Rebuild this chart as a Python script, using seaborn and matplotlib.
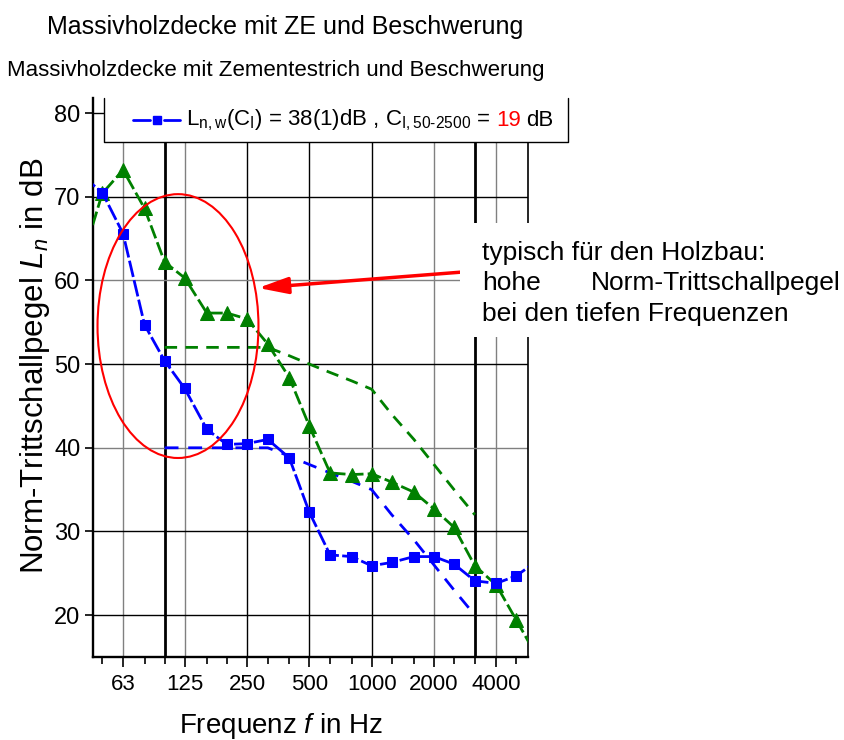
import matplotlib
matplotlib.use("Agg")
import matplotlib.pyplot as plt
import seaborn as sns
from matplotlib import font_manager
from matplotlib.patches import Ellipse, Rectangle
from matplotlib.lines import Line2D
from matplotlib.offsetbox import TextArea, DrawingArea, HPacker, AnchoredOffsetbox
from matplotlib.ticker import FixedLocator, FixedFormatter, NullFormatter

# third-octave bands, 40 and 6300 Hz only so the lines run out of the frame
freqs = [40, 50, 63, 80, 100, 125, 160, 200, 250, 315, 400, 500, 630, 800,
         1000, 1250, 1600, 2000, 2500, 3150, 4000, 5000, 6300]
ln_blue = [72.5, 70.5, 65.6, 54.7, 50.4, 47.1, 42.2, 40.4, 40.5, 41.0, 38.8, 32.3,
           27.2, 27.0, 25.9, 26.3, 27.0, 27.0, 26.1, 24.1, 23.8, 24.7, 26.5]
ln_green = [62.5, 70.4, 73.2, 68.6, 62.2, 60.3, 56.1, 56.1, 55.4, 52.4, 48.4, 42.6,
            37.0, 36.8, 36.9, 35.9, 34.7, 32.7, 30.5, 25.9, 23.6, 19.4, 15.0]

# shifted reference curves (ISO 717-2), 100 - 3150 Hz
ref_freqs = [100, 125, 160, 200, 250, 315, 400, 500, 630, 800, 1000, 1250,
             1600, 2000, 2500, 3150]
ref_blue = [40, 40, 40, 40, 40, 40, 39, 38, 37, 36, 35, 32, 29, 26, 23, 20]
ref_green = [52, 52, 52, 52, 52, 52, 51, 50, 49, 48, 47, 44, 41, 38, 35, 32]

xticks = [63, 125, 250, 500, 1000, 2000, 4000]
xtick_labels = ["63", "125", "250", "500", "1000", "2000", "4000"]
minor_ticks = freqs[1:-1]
yticks = [20, 30, 40, 50, 60, 70, 80]

BLUE = "#0000ff"
GREEN = "#008000"
RED = "#ff0000"
GREY = "#808080"

sns.set_style("ticks")
names = {f.name for f in font_manager.fontManager.ttflist}
narrow = "Liberation Sans Narrow" if "Liberation Sans Narrow" in names else "Liberation Sans"
plt.rcParams["font.family"] = [narrow, "DejaVu Sans"]
plt.rcParams["text.color"] = "black"
plt.rcParams["mathtext.fontset"] = "custom"
plt.rcParams["mathtext.rm"] = narrow
plt.rcParams["mathtext.it"] = narrow + ":italic"
plt.rcParams["mathtext.bf"] = narrow + ":bold"

fig = plt.figure(figsize=(8.44, 7.40), dpi=100)
ax = fig.add_axes([93 / 844, 1 - 657 / 740, 435 / 844, 559 / 740])
ax.set_xscale("log", base=2)
ax.set_xlim(45.1, 5690)
ax.set_ylim(15, 81.8)

# grid: some lines black, some grey, 100 and 3150 Hz thick
for f, c, w in [(63, GREY, 1), (100, "black", 2), (125, GREY, 1), (250, "black", 1),
                (500, "black", 1), (1000, "black", 1), (2000, GREY, 1),
                (3150, "black", 2), (4000, GREY, 1)]:
    ax.axvline(f, color=c, lw=w, zorder=1)
for y, c in [(20, "black"), (30, "black"), (40, GREY), (50, "black"),
             (60, GREY), (70, "black"), (80, "black")]:
    ax.axhline(y, color=c, lw=1, zorder=1)

sns.lineplot(x=ref_freqs, y=ref_green, ax=ax, color=GREEN, lw=2,
             linestyle=(0, (4.5, 3)), errorbar=None, zorder=3)
sns.lineplot(x=ref_freqs, y=ref_blue, ax=ax, color=BLUE, lw=2,
             linestyle=(0, (5, 3.5)), errorbar=None, zorder=3)
sns.lineplot(x=freqs, y=ln_green, ax=ax, color=GREEN, lw=2, linestyle=(0, (5, 1.5)),
             marker="^", markersize=10, markeredgecolor=GREEN, errorbar=None, zorder=4)
sns.lineplot(x=freqs, y=ln_blue, ax=ax, color=BLUE, lw=2, linestyle=(0, (6, 1.2)),
             marker="s", markersize=7.5, markeredgecolor=BLUE, errorbar=None, zorder=5)

ax.xaxis.set_major_locator(FixedLocator(xticks))
ax.xaxis.set_major_formatter(FixedFormatter(xtick_labels))
ax.xaxis.set_minor_locator(FixedLocator(minor_ticks))
ax.xaxis.set_minor_formatter(NullFormatter())
ax.set_yticks(yticks)
ax.tick_params(axis="x", which="major", direction="out", length=7, width=1.2,
               labelsize=16, pad=5.5, color="black", labelcolor="black")
ax.tick_params(axis="x", which="minor", direction="out", length=5, width=1.2, color="black")
ax.tick_params(axis="y", direction="out", length=6, width=1.2, labelsize=17, pad=3,
               color="black", labelcolor="black")
ax.set_xlabel("")
ax.set_ylabel("")
ax.spines["top"].set_visible(False)
for s in ["left", "bottom"]:
    ax.spines[s].set_linewidth(1.7)
    ax.spines[s].set_color("black")
ax.spines["right"].set_linewidth(1.2)
ax.spines["right"].set_color("black")

# red ellipse and arrow
ax.add_patch(Ellipse((0.1954, 0.592), 0.370, 0.472, transform=ax.transAxes,
                     fill=False, edgecolor=RED, lw=1.5, zorder=6, clip_on=False))
ax.annotate("", xy=(283, 59.1), xytext=(2734, 61.0),
            arrowprops=dict(arrowstyle="-|>,head_length=18,head_width=5",
                            mutation_scale=1, color=RED, lw=2.5,
                            shrinkA=0, shrinkB=0), zorder=7)

# legend frame (open at the top) and contents
x0, x1 = 104 / 844, 568 / 844
y0, y1 = 1 - 142 / 740, 1 - 98 / 740
fig.add_artist(Rectangle((x0, y0), x1 - x0, (1 - 94 / 740) - y0, transform=fig.transFigure,
                         facecolor="white", edgecolor="none", zorder=2))
fig.add_artist(Line2D([x0, x0, x1, x1], [y1, y0, y0, y1], transform=fig.transFigure,
                      color="black", lw=1, zorder=3))
da = DrawingArea(34, 14, 0, 0)
da.add_artist(Line2D([0, 12], [7, 7], color=BLUE, lw=2))
da.add_artist(Line2D([22, 34], [7, 7], color=BLUE, lw=2))
da.add_artist(Line2D([17], [7], color=BLUE, marker="s", markersize=5.5, lw=0))
leg_parts = [da,
             TextArea(r"$\mathrm{L}_{\mathrm{n,w}}(\mathrm{C}_{\mathrm{I}})$ = 38(1)dB , "
                      r"$\mathrm{C}_{\mathrm{I,50\text{-}2500}}$ =",
                      textprops=dict(fontsize=16, color="black")),
             TextArea("19", textprops=dict(fontsize=16, color=RED)),
             TextArea("dB", textprops=dict(fontsize=16, color="black"))]
box = HPacker(children=leg_parts, align="center", pad=0, sep=4)
fig.add_artist(AnchoredOffsetbox(loc="center left", child=box, pad=0, borderpad=0,
                                 frameon=False, bbox_to_anchor=(133 / 844, 1 - 120 / 740),
                                 bbox_transform=fig.transFigure))

# note on the right, on a white field that hides the grid
fig.add_artist(Rectangle((460 / 844, 1 - 337 / 740), 384 / 844, 114 / 740,
                         transform=fig.transFigure, facecolor="white",
                         edgecolor="none", zorder=2))
note_font = dict(fontsize=19, family=["Liberation Sans", "DejaVu Sans"], va="baseline")
fig.text(482 / 844, 1 - 260 / 740, "typisch für den Holzbau:", ha="left", **note_font)
fig.text(482 / 844, 1 - 290 / 740, "hohe", ha="left", **note_font)
fig.text(841 / 844, 1 - 290 / 740, "Norm-Trittschallpegel", ha="right", **note_font)
fig.text(482 / 844, 1 - 321 / 740, "bei den tiefen Frequenzen", ha="left", **note_font)

# titles and axis labels
fig.text(285.5 / 844, 1 - 34 / 740, "Massivholzdecke mit ZE und Beschwerung",
         ha="center", va="baseline", fontsize=18)
fig.text(275.5 / 844, 1 - 76 / 740, "Massivholzdecke mit Zementestrich und Beschwerung",
         ha="center", va="baseline", fontsize=16)
fig.text(35 / 844, 1 - 366 / 740, r"Norm-Trittschallpegel $L_n$ in dB", rotation=90,
         ha="center", va="center", fontsize=22.5, family=["Liberation Sans", "DejaVu Sans"])
fig.text(281.5 / 844, 1 - 733 / 740, r"Frequenz $f$ in Hz", ha="center", va="baseline",
         fontsize=20)

fig.savefig("out.png", dpi=100)
